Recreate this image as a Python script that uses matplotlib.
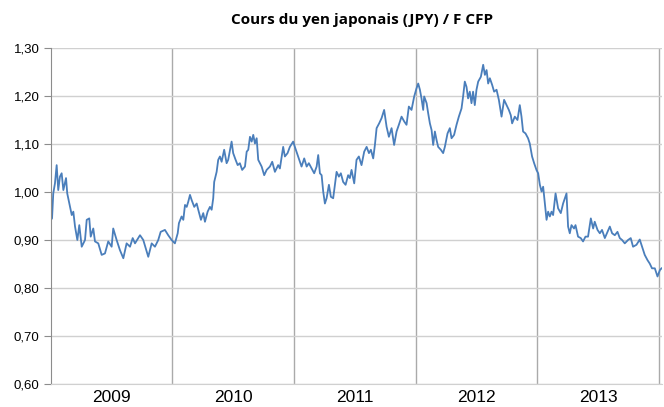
import matplotlib
matplotlib.use('Agg')
import matplotlib.pyplot as plt
from matplotlib.ticker import FixedLocator, FuncFormatter, NullFormatter

# Cours JPY / F CFP (decimal year, value)
t_2009 = [2009.002, 2009.011, 2009.021, 2009.035, 2009.049, 2009.062, 2009.076, 2009.090,
          2009.104, 2009.126, 2009.136, 2009.159, 2009.173, 2009.186, 2009.200, 2009.219,
          2009.235, 2009.255, 2009.282, 2009.296, 2009.317, 2009.329, 2009.350, 2009.364,
          2009.391, 2009.419, 2009.446, 2009.473, 2009.501, 2009.514, 2009.542, 2009.569,
          2009.597, 2009.624, 2009.652, 2009.674, 2009.693, 2009.734, 2009.761, 2009.802,
          2009.830, 2009.857, 2009.884, 2009.904, 2009.939, 2009.966, 2009.994]
v_2009 = [0.942, 0.945, 0.997, 1.018, 1.056, 1.004, 1.032, 1.039,
          1.004, 1.029, 0.997, 0.969, 0.952, 0.959, 0.928, 0.900,
          0.931, 0.886, 0.900, 0.942, 0.945, 0.907, 0.924, 0.897,
          0.893, 0.869, 0.872, 0.897, 0.886, 0.924, 0.900, 0.879,
          0.862, 0.893, 0.886, 0.904, 0.893, 0.910, 0.900, 0.865,
          0.893, 0.886, 0.900, 0.917, 0.921, 0.910, 0.900]

t_2010 = [2010.021, 2010.044, 2010.054, 2010.076, 2010.090, 2010.104, 2010.118, 2010.131,
          2010.145, 2010.159, 2010.180, 2010.200, 2010.213, 2010.235, 2010.254, 2010.268,
          2010.290, 2010.309, 2010.323, 2010.336, 2010.344, 2010.364, 2010.377, 2010.391,
          2010.405, 2010.426, 2010.446, 2010.459, 2010.487, 2010.500, 2010.520, 2010.537,
          2010.555, 2010.574, 2010.597, 2010.611, 2010.624, 2010.638, 2010.652, 2010.665,
          2010.679, 2010.693, 2010.706, 2010.734, 2010.755, 2010.775, 2010.802, 2010.821,
          2010.843, 2010.870, 2010.884, 2010.911, 2010.925, 2010.947, 2010.966, 2010.993]
v_2010 = [0.893, 0.914, 0.935, 0.949, 0.942, 0.973, 0.969, 0.980,
          0.994, 0.983, 0.969, 0.976, 0.963, 0.942, 0.956, 0.938,
          0.959, 0.969, 0.963, 0.987, 1.021, 1.042, 1.067, 1.074,
          1.063, 1.088, 1.060, 1.067, 1.105, 1.081, 1.067, 1.056,
          1.060, 1.046, 1.053, 1.084, 1.088, 1.115, 1.105, 1.119,
          1.101, 1.112, 1.067, 1.053, 1.035, 1.046, 1.053, 1.063,
          1.042, 1.056, 1.049, 1.094, 1.074, 1.081, 1.094, 1.105]

t_2011 = [2011.007, 2011.030, 2011.049, 2011.062, 2011.084, 2011.104, 2011.122, 2011.145,
          2011.166, 2011.186, 2011.199, 2011.213, 2011.227, 2011.240, 2011.254, 2011.268,
          2011.287, 2011.303, 2011.322, 2011.336, 2011.350, 2011.369, 2011.385, 2011.404,
          2011.424, 2011.445, 2011.459, 2011.473, 2011.495, 2011.514, 2011.533, 2011.555,
          2011.577, 2011.597, 2011.616, 2011.632, 2011.651, 2011.665, 2011.679, 2011.700,
          2011.720, 2011.741, 2011.761, 2011.780, 2011.802, 2011.823, 2011.843, 2011.862,
          2011.884, 2011.906, 2011.925, 2011.944, 2011.966, 2011.988]
v_2011 = [1.094, 1.077, 1.063, 1.053, 1.070, 1.053, 1.060, 1.049,
          1.039, 1.053, 1.077, 1.039, 1.035, 1.001, 0.976, 0.987,
          1.015, 0.990, 0.987, 1.015, 1.042, 1.032, 1.039, 1.021,
          1.015, 1.035, 1.029, 1.046, 1.018, 1.067, 1.074, 1.056,
          1.084, 1.094, 1.081, 1.088, 1.070, 1.098, 1.133, 1.143,
          1.154, 1.171, 1.136, 1.115, 1.133, 1.098, 1.126, 1.140,
          1.157, 1.147, 1.140, 1.178, 1.171, 1.199]

t_2012 = [2012.007, 2012.021, 2012.035, 2012.048, 2012.062, 2012.070, 2012.090, 2012.103,
          2012.117, 2012.131, 2012.144, 2012.158, 2012.172, 2012.185, 2012.207, 2012.226,
          2012.240, 2012.262, 2012.281, 2012.295, 2012.316, 2012.336, 2012.355, 2012.377,
          2012.390, 2012.404, 2012.418, 2012.431, 2012.445, 2012.459, 2012.472, 2012.486,
          2012.500, 2012.514, 2012.536, 2012.555, 2012.569, 2012.583, 2012.596, 2012.610,
          2012.629, 2012.645, 2012.665, 2012.684, 2012.706, 2012.727, 2012.747, 2012.766,
          2012.782, 2012.793, 2012.815, 2012.837, 2012.856, 2012.870, 2012.883, 2012.903,
          2012.924, 2012.938, 2012.957, 2012.974, 2012.993]
v_2012 = [1.216, 1.226, 1.213, 1.195, 1.171, 1.199, 1.185, 1.164,
          1.143, 1.129, 1.098, 1.126, 1.108, 1.094, 1.088, 1.081,
          1.094, 1.122, 1.133, 1.112, 1.119, 1.140, 1.157, 1.174,
          1.199, 1.230, 1.219, 1.195, 1.209, 1.185, 1.209, 1.181,
          1.213, 1.230, 1.240, 1.265, 1.244, 1.254, 1.226, 1.237,
          1.223, 1.209, 1.213, 1.192, 1.157, 1.192, 1.181, 1.171,
          1.160, 1.143, 1.157, 1.150, 1.181, 1.157, 1.126, 1.122,
          1.112, 1.101, 1.074, 1.060, 1.046]

t_2013 = [2013.007, 2013.021, 2013.035, 2013.048, 2013.062, 2013.076, 2013.089, 2013.103,
          2013.117, 2013.130, 2013.150, 2013.171, 2013.193, 2013.212, 2013.240, 2013.253,
          2013.267, 2013.281, 2013.302, 2013.314, 2013.335, 2013.357, 2013.376, 2013.396,
          2013.417, 2013.440, 2013.459, 2013.472, 2013.495, 2013.514, 2013.532, 2013.555,
          2013.577, 2013.596, 2013.615, 2013.637, 2013.659, 2013.678, 2013.697, 2013.719,
          2013.746, 2013.768, 2013.787, 2013.815, 2013.842, 2013.861, 2013.883, 2013.906,
          2013.924, 2013.943, 2013.966, 2013.988, 2014.007, 2014.021]
v_2013 = [1.039, 1.015, 1.001, 1.011, 0.976, 0.942, 0.959, 0.949,
          0.959, 0.952, 0.997, 0.966, 0.956, 0.976, 0.997, 0.928,
          0.914, 0.931, 0.924, 0.931, 0.907, 0.904, 0.897, 0.907,
          0.907, 0.945, 0.924, 0.938, 0.921, 0.914, 0.921, 0.904,
          0.917, 0.928, 0.914, 0.910, 0.917, 0.904, 0.900, 0.893,
          0.900, 0.904, 0.886, 0.890, 0.901, 0.886, 0.869, 0.858,
          0.851, 0.841, 0.841, 0.824, 0.837, 0.841]

years = ['2009', '2010', '2011', '2012', '2013']
y_ticks = [0.60, 0.70, 0.80, 0.90, 1.00, 1.10, 1.20, 1.30]

t = t_2009 + t_2010 + t_2011 + t_2012 + t_2013
v = v_2009 + v_2010 + v_2011 + v_2012 + v_2013

fig = plt.figure(figsize=(6.64, 4.07), dpi=100)
ax = fig.add_axes([50.7 / 664, 1 - 384 / 407, (662 - 50.7) / 664, (384 - 48) / 407])

ax.plot(t, v, color='#4a7ebb', linewidth=1.3)

ax.set_xlim(2009, 2014.025)
ax.set_ylim(0.60, 1.30)

h_grid = '#d0d0d0'
v_grid = '#aaaaaa'

ax.set_yticks(y_ticks)
ax.yaxis.set_major_formatter(FuncFormatter(lambda y, _: f'{y:.2f}'.replace('.', ',')))
ax.tick_params(axis='y', length=5, color='#8c8c8c', labelsize=9.5, pad=3,
               labelfontfamily='Liberation Sans')
ax.yaxis.grid(True, color=h_grid, linewidth=1)

# year boundaries as gridlines, year labels centred in each year
bounds = [2009 + i for i in range(1, 6)]
ax.xaxis.set_major_locator(FixedLocator(bounds))
ax.xaxis.set_major_formatter(NullFormatter())
ax.xaxis.set_minor_locator(FixedLocator([2009.5 + i for i in range(len(years))]))
ax.set_xticklabels(years, minor=True)
ax.tick_params(axis='x', which='both', length=0)
ax.tick_params(axis='x', which='minor', labelsize=12.5, pad=4,
               labelfontfamily='Liberation Sans')
ax.xaxis.grid(True, which='major', color=v_grid, linewidth=1)

for side in ['top', 'right']:
    ax.spines[side].set_visible(False)
ax.spines['left'].set_color('#8c8c8c')
ax.spines['bottom'].set_color(h_grid)
ax.set_axisbelow(True)

fig.text(362 / 664, 1 - 20 / 407, 'Cours du yen japonais (JPY) / F CFP',
         ha='center', va='center', fontsize=11, fontweight='bold', family='Open Sans')

fig.savefig('out.png', dpi=100)
